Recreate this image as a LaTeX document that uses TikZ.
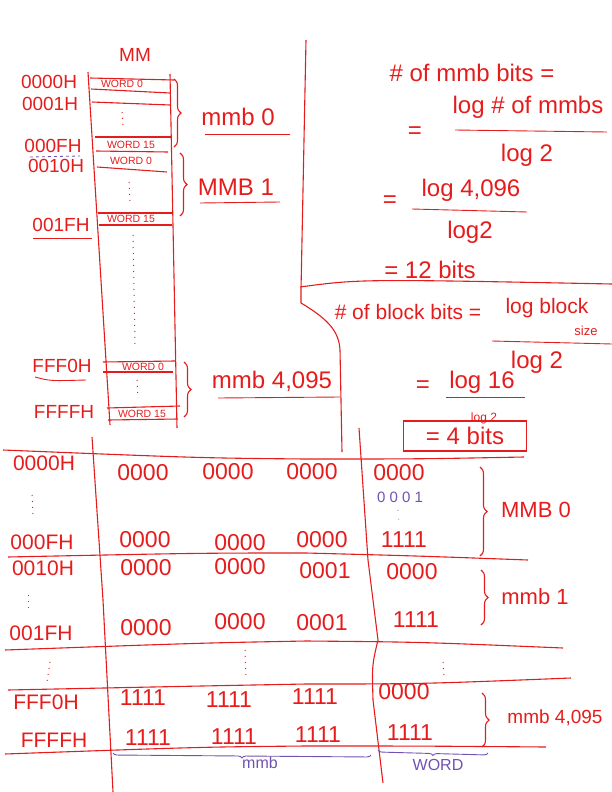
\documentclass[tikz,border=0pt]{standalone}
\usepackage{fontspec}
\setmainfont{Liberation Sans}
\usetikzlibrary{calc,decorations.pathreplacing}
\definecolor{ink}{RGB}{230,28,28}
\definecolor{pen}{RGB}{112,82,178}
\newcommand{\fsz}[1]{\fontsize{#1}{#1}\selectfont}

\begin{document}
\begin{tikzpicture}[x=1pt,y=-1pt,
    stroke/.style={draw=ink,line width=1.1pt},
    fine/.style={draw=ink,line width=0.9pt},
    txt/.style={text=ink,inner sep=0pt},
    addr/.style={txt,font=\fsz{19}},
    cellw/.style={txt,font=\fsz{10.5}},
    memo/.style={txt,font=\fsz{24}},
    bitv/.style={txt,font=\fsz{23}},
    tagp/.style={text=pen,inner sep=0pt,font=\fsz{16}},
    gap/.style={ink,line width=1pt,dash pattern=on 1pt off 5pt},
    curly/.style={draw=ink,line width=1.1pt,decorate,decoration={brace,amplitude=7pt}},
    pcurly/.style={draw=pen,line width=0.9pt,decorate,decoration={brace,mirror,amplitude=4pt}},
  ]
  \useasboundingbox (0,0) rectangle (612,792);
  %%%%% MM column %%%%%
  \node[addr] (mmhead) at (135,55) {MM};
  \draw[stroke] (88,72) -- (110,425);
  \draw[stroke] (170,74) -- (177,428);
  \draw[stroke] (90,78) -- (174,80);
  \draw[stroke] (91,89) -- (170,93);
  \draw[stroke] (92,102) -- (170,105);
  \draw[stroke] (95,137) -- (172,137);
  \draw[stroke] (96,151) -- (168,152);
  \draw[stroke] (97,167) -- (167,172);
  \draw[stroke] (98,213) -- (172,213);
  \draw[stroke] (99,225) -- (172,225);
  \draw[stroke] (103,362) -- (175,361);
  \draw[stroke] (103,372) -- (173,372);
  \draw[stroke] (107,408) -- (180,406);
  \draw[stroke] (108,420) -- (178,419);

  \node[cellw] (wa0) at (122,84) {WORD 0};
  \node[cellw] (wa15) at (131,145) {WORD 15};
  \node[cellw] (wb0) at (131,161) {WORD 0};
  \node[cellw] (wb15) at (131,219) {WORD 15};
  \node[cellw] (wz0) at (143,367) {WORD 0};
  \node[cellw] (wz15) at (142,414) {WORD 15};

  \draw[gap] (122,112) -- (123,128);
  \draw[gap] (129,182) -- (130,204);
  \draw[gap] (133,235) -- (135,345);
  \draw[gap] (137,380) -- (138,398);

  \node[addr] (ma0) at (49,82) {0000H};
  \node[addr] (ma1) at (50,104) {0001H};
  \node[addr] (maf) at (53,146) {000FH};
  \draw[pen,line width=0.8pt,dashed] (30,157) -- (80,156);
  \node[addr] (mb0) at (56,166) {0010H};
  \node[addr] (mbf) at (61,225) {001FH};
  \draw[fine] (33,238) -- (92,238);
  \node[addr] (mz0) at (62,366) {FFF0H};
  \draw[fine] (35,377) .. controls (50,381) .. (86,380);
  \node[addr] (mzf) at (64,412) {FFFFH};

  \draw[curly] (174,79) -- (174,147);
  \draw[curly] (180,153) -- (180,216);
  \draw[curly] (184,362) -- (184,417);
  \node[memo] (mmb0) at (238,117) {mmb 0};
  \draw[fine] (205,134) -- (290,134);
  \node[memo] (mmb1) at (236,187) {MMB 1};
  \draw[fine] (200,203) -- (280,202);
  \node[memo] (mmbz) at (272,381) {mmb 4,095};
  \draw[fine] (218,398) -- (340,397);

  %%%%% divider %%%%%
  \draw[stroke] (306,40) -- (301,290) -- (301,303) .. controls (326,318) and (339,330) .. (340,350) -- (342,452);
  \draw[stroke] (300,287) .. controls (360,279) .. (612,284);

  %%%%% mmb bits %%%%%
  \node[memo] (qmmb) at (472,73) {\# of mmb bits =};
  \node[memo] (eq1) at (415,133) {=};
  \node[memo] (num1) at (528,107) {log \# of mmbs};
  \draw[fine] (455,130) -- (607,132);
  \node[memo] (den1) at (527,155) {log 2};
  \node[memo] (eq2) at (390,202) {=};
  \node[memo] (num2) at (471,190) {log 4,096};
  \draw[fine] (412,209) -- (527,212);
  \node[memo] (den2) at (470,232) {log2};
  \node[memo] (res1) at (430,270) {= 12 bits};

  %%%%% block bits %%%%%
  \node[txt,font=\fsz{21}] (qblk) at (408,312) {\# of block bits =};
  \node[txt,font=\fsz{21}] (num3) at (547,308) {log block};
  \node[txt,font=\fsz{13}] (num3b) at (586,331) {size};
  \draw[fine] (492,341) -- (612,344);
  \node[memo] (den3) at (537,362) {log 2};
  \node[memo] (eq4) at (423,387) {=};
  \node[memo] (num4) at (482,382) {log 16};
  \draw[fine] (446,397) -- (525,397);
  \node[txt,font=\fsz{12}] (den4) at (484,418) {log 2};
  \node[memo,draw=ink,line width=1.1pt,minimum width=123pt,minimum height=30pt] (res2) at (465,436) {= 4 bits};

  %%%%% address table %%%%%
  \draw[stroke] (92,437) -- (103,600) -- (113,792);
  \draw[stroke] (359,428) -- (368,560) -- (373,600) -- (378,640) .. controls (372,665) .. (373,700) -- (383,783);
  \draw[stroke] (3,450) .. controls (200,458) .. (306,459) .. controls (420,459) .. (524,457);
  \draw[stroke] (8,557) .. controls (200,553) .. (306,553) .. controls (420,556) .. (528,560);
  \draw[stroke] (5,650) .. controls (200,643) .. (306,641) .. controls (420,642) .. (563,648);
  \draw[stroke] (8,690) .. controls (200,686) .. (306,684) .. controls (420,684) .. (571,678);
  \draw[stroke] (5,754) .. controls (200,747) .. (306,746) .. controls (420,746) .. (546,747);

  \node[addr,font=\fsz{21}] (t00) at (44,463) {0000H};
  \node[addr,font=\fsz{21}] (t0f) at (42,542) {000FH};
  \node[addr,font=\fsz{21}] (t10) at (43,568) {0010H};
  \node[addr,font=\fsz{21}] (t1f) at (41,633) {001FH};
  \node[addr,font=\fsz{21}] (tz0) at (46,702) {FFF0H};
  \node[addr,font=\fsz{21}] (tzf) at (54,740) {FFFFH};
  \draw[gap] (32,495) -- (33,518);
  \draw[gap] (28,595) -- (28,613);
  \draw[gap] (50,662) -- (47,682);
  \draw[gap] (245,650) -- (246,678);
  \draw[gap] (443,662) -- (444,677);

  \node[bitv] (a1) at (143,473) {0000};
  \node[bitv] (a2) at (228,472) {0000};
  \node[bitv] (a3) at (312,472) {0000};
  \node[bitv] (a4) at (399,473) {0000};
  \node[text=pen,inner sep=0pt,font=\fsz{15}] (a5) at (400,497) {0 0 0 1};
  \draw[pen,line width=0.8pt,dash pattern=on 0.8pt off 8pt] (398,510) -- (399,522);
  \node[bitv] (b1) at (145,540) {0000};
  \node[bitv] (b2) at (240,543) {0000};
  \node[bitv] (b3) at (322,540) {0000};
  \node[bitv] (b4) at (404,540) {1111};
  \node[bitv] (c1) at (146,568) {0000};
  \node[bitv] (c2) at (240,567) {0000};
  \node[bitv] (c3) at (325,571) {0001};
  \node[bitv] (c4) at (412,572) {0000};
  \node[bitv] (d1) at (146,628) {0000};
  \node[bitv] (d2) at (240,622) {0000};
  \node[bitv] (d3) at (322,623) {0001};
  \node[bitv] (d4) at (416,620) {1111};
  \node[bitv] (e1) at (143,698) {1111};
  \node[bitv] (e2) at (229,700) {1111};
  \node[bitv] (e3) at (315,697) {1111};
  \node[bitv] (e4) at (404,692) {0000};
  \node[bitv] (f1) at (148,738) {1111};
  \node[bitv] (f2) at (234,737) {1111};
  \node[bitv] (f3) at (318,735) {1111};
  \node[bitv] (f4) at (410,733) {1111};

  \draw[curly] (480,467) -- (480,556);
  \node[txt,font=\fsz{22}] (tm0) at (536,510) {MMB 0};
  \draw[curly] (481,570) -- (481,625);
  \node[txt,font=\fsz{22}] (tm1) at (535,597) {mmb 1};
  \draw[curly] (482,693) -- (482,747);
  \node[txt,font=\fsz{19}] (tmz) at (555,718) {mmb 4,095};

  \draw[pcurly] (113,753) -- (371,755);
  \node[tagp] (pmmb) at (260,763) {mmb};
  \draw[pcurly] (378,750) -- (488,753);
  \node[tagp] (pword) at (438,765) {WORD};
\end{tikzpicture}
\end{document}
